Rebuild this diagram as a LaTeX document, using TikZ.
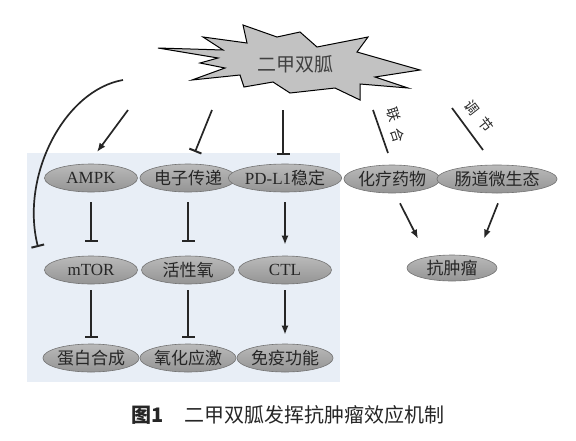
\documentclass[tikz,border=0pt]{standalone}
\usepackage{fontspec}
\setmainfont{Liberation Serif}
\newfontfamily\cjk{Noto Sans CJK SC}
\usetikzlibrary{arrows.meta,shapes.geometric}
\definecolor{panelblue}{HTML}{E8EEF6}
\definecolor{burstgray}{HTML}{C2C2C2}
\definecolor{ink}{HTML}{262626}
\begin{document}
\begin{tikzpicture}[x=1pt,y=-1pt,
  oval/.style={ellipse, minimum width=93pt, minimum height=28pt, inner sep=0pt,
    draw=black!55, line width=0.6pt, top color=black!27, bottom color=black!42,
    font=\fontsize{17}{17}\selectfont, text=ink},
  conn/.style={draw=ink, line width=1.7pt},
  act/.style={conn, -{Latex[length=9pt,width=7pt]}},
  inh/.style={conn, -{Bar[width=13pt,line width=2pt]}},
  lab/.style={font=\cjk\fontsize{14}{14}\selectfont, text=ink, inner sep=0pt}
]
\useasboundingbox (0,0) rectangle (576,440);
% panel
\fill[panelblue] (27,153) rectangle (340,382);
% starburst
\filldraw[fill=burstgray, draw=black, line width=1pt, line join=miter]
  (158,48) -- (223,50) -- (203,37) -- (247,43) -- (243,25) -- (277,37) -- (300,32)
  -- (317,47) -- (368,37) -- (357,52) -- (420,70) -- (375,77) -- (408,88) -- (360,84)
  -- (360,100) -- (335,88) -- (290,93) -- (273,82) -- (244,87) -- (240,75) -- (192,80)
  -- (225,68) -- (200,63) -- (218,58) -- cycle;
\node[font=\cjk\fontsize{19}{19}\selectfont, text=black!75] (met) at (295,64) {二甲双胍};
% panel nodes
\node[oval] (ampk) at (91,178) {AMPK};
\node[oval] (etc)  at (188,178) {\cjk 电子传递};
\node[oval] (pdl)  at (285,178) {PD-L1{\cjk 稳定}};
\node[oval] (mtor) at (91,270) {mTOR};
\node[oval] (ros)  at (188,270) {\cjk 活性氧};
\node[oval] (ctl)  at (285,270) {CTL};
\node[oval] (prot) at (91,358) {\cjk 蛋白合成};
\node[oval] (oxs)  at (188,358) {\cjk 氧化应激};
\node[oval] (imm)  at (285,358) {\cjk 免疫功能};
% right group
\node[oval] (chemo) at (392,179) {\cjk 化疗药物};
\node[oval, minimum width=109pt] (gut) at (497,179) {\cjk 肠道微生态};
\node[oval, minimum width=90pt, minimum height=26pt] (anti) at (452,268) {\cjk 抗肿瘤};
% starburst connectors
\coordinate (s1) at (128,110); \coordinate (e1) at (97,152);
\coordinate (s2) at (212,110); \coordinate (e2) at (195,152);
\coordinate (s3) at (283,110); \coordinate (e3) at (283,155);
\coordinate (s4) at (123,80);  \coordinate (e4) at (38,247);
\draw[act] (s1) -- (e1);
\draw[inh] (s2) -- (e2);
\draw[inh] (s3) -- (e3);
\draw[inh] (s4) .. controls (65,90) and (20,175) .. (e4);
% vertical connectors
\draw[inh] ([yshift=-10pt]ampk.south) -- ([yshift=14pt]mtor.north);
\draw[inh] ([yshift=-10pt]etc.south) -- ([yshift=14pt]ros.north);
\draw[act] ([yshift=-10pt]pdl.south) -- ([yshift=11pt]ctl.north);
\draw[inh] ([yshift=-6pt]mtor.south) -- ([yshift=6pt]prot.north);
\draw[inh] ([yshift=-6pt]ros.south) -- ([yshift=6pt]oxs.north);
\draw[act] ([yshift=-6pt]ctl.south) -- ([yshift=9pt]imm.north);
% combination lines
\coordinate (l1a) at (373,110); \coordinate (l1b) at (388,153);
\coordinate (l2a) at (452,108); \coordinate (l2b) at (483,150);
\draw[conn] (l1a) -- (l1b);
\draw[conn] (l2a) -- (l2b);
\node[lab, rotate=-72] (lh1) at (394,115) {联};
\node[lab, rotate=-72] (lh2) at (398,135) {合};
\node[lab, rotate=-52] (tj1) at (472,108) {调};
\node[lab, rotate=-52] (tj2) at (486,125) {节};
\draw[act] ([shift={(8pt,-10pt)}]chemo.south) -- ([shift={(-34pt,16pt)}]anti.north);
\draw[act] ([shift={(1pt,-10pt)}]gut.south) -- ([shift={(32pt,16pt)}]anti.north);
% caption
\node[anchor=west, inner sep=0pt, text=black!85] (cap) at (131,415)
  {\cjk\fontsize{20}{20}\selectfont{\bfseries 图1}\hspace{21pt}二甲双胍发挥抗肿瘤效应机制};
\end{tikzpicture}
\end{document}
